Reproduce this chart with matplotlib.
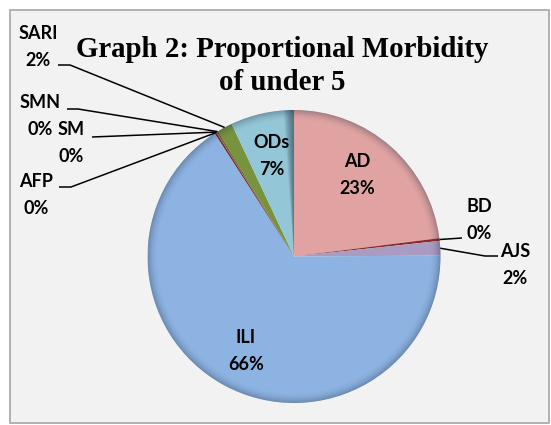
import numpy as np
import matplotlib
matplotlib.use("Agg")
import matplotlib.pyplot as plt
from matplotlib.patches import Rectangle, Wedge

categories = ["AD", "BD", "AJS", "ILI", "AFP", "SM", "SMN", "SARI", "ODs"]
values = [23.0, 0.3, 1.6, 66.0, 0.2, 0.1, 0.1, 1.7, 7.0]
shown_pct = ["23%", "0%", "2%", "66%", "0%", "0%", "0%", "2%", "7%"]
colors = ["#E0A3A2", "#8B2A2A", "#A99BC2", "#8DB3E2", "#7F2424", "#5E7B2E",
          "#6A2020", "#77933C", "#93C6D6"]
title_lines = ["Graph 2: Proportional Morbidity", "of under 5"]

W, H = 551, 425
fig = plt.figure(figsize=(W / 100, H / 100), dpi=100, facecolor="white")
bg = Rectangle((9.5 / W, 2 / H), 539 / W, (H - 12) / H, transform=fig.transFigure,
               facecolor="#F2F2F2", edgecolor="#A6A6A6", lw=1.2, zorder=-10)
fig.patches.append(bg)

cx, cy, R = 294, 256.5, 146.5
ax = fig.add_axes([(cx - R) / W, (H - cy - R) / H, 2 * R / W, 2 * R / H])
ax.set_zorder(5)
ax.patch.set_visible(False)

wedges, _ = ax.pie(values, colors=colors, startangle=90, counterclock=False,
                   radius=1, center=(0, 0), wedgeprops=dict(linewidth=0))
ax.set_xlim(-1, 1)
ax.set_ylim(-1, 1)
ax.set_aspect("equal")
ax.axis("off")

# bevel shading at the rim
n = 14
for w in wedges:
    for k in range(n):
        r = 1 - k * 0.005
        ax.add_patch(Wedge((0, 0), r, w.theta1, w.theta2, width=0.005,
                           facecolor="#1F2D40", alpha=0.32 * ((n - k) / n) ** 2, lw=0))
# darker shading along the right edge of the last slice (3D side)
last = wedges[-1]
for k in range(8):
    ax.add_patch(Wedge((0, 0), 1, 90, 90 + 0.5 * (k + 1), facecolor="#1F3040",
                       alpha=0.09, lw=0))

def px(x, y):
    return ((x - cx) / R, (cy - y) / R)

lab_font = dict(family=["Lato", "DejaVu Sans"], fontweight="bold", fontsize=13,
                color="black", ha="center", va="baseline", clip_on=False)

# label centre x and baseline of the name line (pixels); percent line is 27px lower
label_pos = {
    "AD": (357, 167), "ODs": (272, 148), "ILI": (246, 343),
    "BD": (479, 212), "AJS": (515, 257), "SARI": (38, 39),
    "SMN": (40, 108), "SM": (71, 135), "AFP": (36, 187),
}
for name, (x, b) in label_pos.items():
    i = categories.index(name)
    ax.text(*px(x, b), name, **lab_font)
    ax.text(*px(x, b + 27), shown_pct[i], **lab_font)

def edge_point(i, r=1.0):
    w = wedges[i]
    a = np.deg2rad((w.theta1 + w.theta2) / 2)
    return r * np.cos(a), r * np.sin(a)

leaders = {
    "BD": [(462, 238)],
    "AJS": [(498, 256), (485, 256)],
    "SARI": [(58, 65), (70, 65)],
    "SMN": [(67, 109), (78, 109)],
    "SM": [(92, 137)],
    "AFP": [(59, 187), (71, 187)],
}
for name, path in leaders.items():
    i = categories.index(name)
    pts = [px(x, y) for x, y in path] + [edge_point(i, 1.0)]
    xs, ys = zip(*pts)
    ax.plot(xs, ys, color="black", lw=1.1, clip_on=False, solid_capstyle="butt")

for line, base in zip(title_lines, [57, 90]):
    fig.text(282 / W, 1 - base / H, line, ha="center", va="baseline",
             family=["Liberation Serif", "DejaVu Serif"], fontweight="bold",
             fontsize=20.8)

fig.savefig("out.png", dpi=100, facecolor=fig.get_facecolor())
